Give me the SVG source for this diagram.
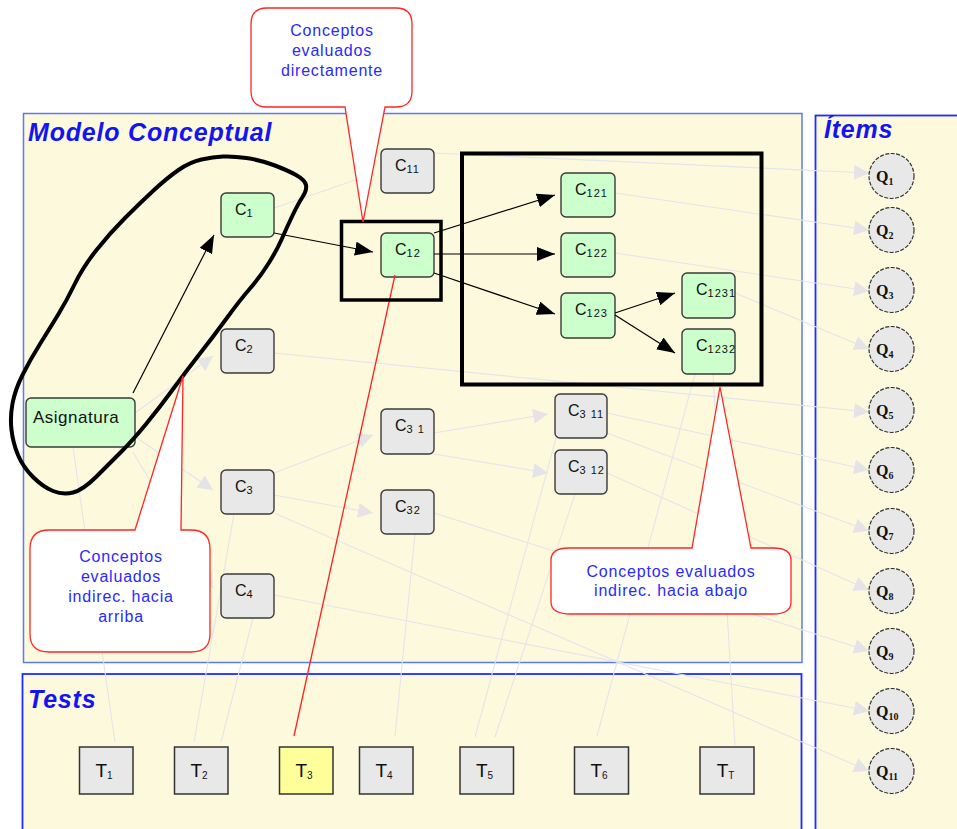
<svg xmlns="http://www.w3.org/2000/svg" width="957" height="829" viewBox="0 0 957 829">
  <defs>
    <style>
      .panel { fill: #fdf9dc; }
      .title { font-family: "Liberation Sans", Arial, sans-serif; font-weight: bold; font-style: italic; font-size: 25px; fill: #1414f0; letter-spacing: 0.8px; }
      .cnode { stroke: #3a3a3a; stroke-width: 1.4; }
      .green { fill: #ccffcc; }
      .grey { fill: #e8e8e8; }
      .c { font-family: "Liberation Sans", Arial, sans-serif; font-size: 16px; fill: #111; }
      .cs { font-size: 11px; letter-spacing: 1px; }
      .tbox { stroke: #333; stroke-width: 1.5; }
      .t { font-family: "Liberation Sans", Arial, sans-serif; font-size: 19px; fill: #111; }
      .ts { font-size: 10px; }
      .qnode { fill: #e8e8e8; stroke: #333; stroke-width: 1.2; stroke-dasharray: 4 1.5; }
      .q { font-family: "Liberation Serif", "Times New Roman", serif; font-weight: bold; font-size: 16px; fill: #111; }
      .qs { font-size: 10px; }
      .faint { stroke: #e4e4ec; stroke-width: 1.1; fill: none; }
      .faint-arrow { marker-end: url(#headGrey); }
      .bold-arrow { stroke: #000; stroke-width: 1.2; fill: none; marker-end: url(#headBlack); }
      .frame { fill: none; stroke: #000; }
      .callout { fill: #fff; stroke: #ff2626; stroke-width: 1.3; }
      .ctext { font-family: "Liberation Sans", Arial, sans-serif; font-size: 16px; fill: #2a2aff; text-anchor: middle; letter-spacing: 0.8px; }
    </style>
    <marker id="headGrey" markerUnits="userSpaceOnUse" markerWidth="15" markerHeight="15" refX="15" refY="7.5" orient="auto">
      <path d="M0,0 L15,7.5 L0,15 Z" fill="#e4e4e8"/>
    </marker>
    <marker id="headBlack" markerUnits="userSpaceOnUse" markerWidth="18" markerHeight="14" refX="18" refY="7" orient="auto">
      <path d="M0,0 L18,7 L0,14 Z" fill="#000"/>
    </marker>
  </defs>

  <rect width="957" height="829" fill="#fff"/>

  <!-- panels -->
  <g id="panels">
    <rect class="panel" x="23.5" y="113.5" width="778.5" height="549" stroke="#5b7cf0" stroke-width="1.5"/>
    <rect class="panel" x="815.5" y="115.5" width="170" height="740" stroke="#1f2cff" stroke-width="1.8"/>
    <rect class="panel" x="22.5" y="674" width="779" height="200" stroke="#1f2cff" stroke-width="1.8"/>
    <text class="title" x="28" y="141">Modelo Conceptual</text>
    <text class="title" x="824" y="138">Ítems</text>
    <text class="title" x="28" y="708">Tests</text>
  </g>

  <!-- connectors -->
  <g id="connectors">
    <!-- concept to concept -->
    <line class="faint faint-arrow" x1="274" y1="208" x2="373" y2="174"/>
    <line class="faint faint-arrow" x1="135" y1="413" x2="213" y2="356"/>
    <line class="faint faint-arrow" x1="137" y1="438" x2="213" y2="490"/>
    <line class="faint faint-arrow" x1="133" y1="452" x2="213" y2="588"/>
    <line class="faint faint-arrow" x1="274" y1="473" x2="373" y2="435"/>
    <line class="faint faint-arrow" x1="274" y1="495" x2="373" y2="513"/>
    <line class="faint faint-arrow" x1="434" y1="433" x2="548" y2="414"/>
    <line class="faint faint-arrow" x1="434" y1="454" x2="548" y2="473"/>
    <!-- concept to item -->
    <line class="faint faint-arrow" x1="434" y1="153" x2="869" y2="173"/>
    <line class="faint faint-arrow" x1="615" y1="193" x2="869" y2="230"/>
    <line class="faint faint-arrow" x1="615" y1="253" x2="869" y2="291"/>
    <line class="faint faint-arrow" x1="735" y1="293" x2="869" y2="349"/>
    <line class="faint faint-arrow" x1="274" y1="353" x2="869" y2="412"/>
    <line class="faint faint-arrow" x1="607" y1="413" x2="869" y2="470"/>
    <line class="faint faint-arrow" x1="607" y1="433" x2="869" y2="531"/>
    <line class="faint faint-arrow" x1="607" y1="473" x2="869" y2="590"/>
    <line class="faint faint-arrow" x1="434" y1="513" x2="869" y2="651"/>
    <line class="faint faint-arrow" x1="274" y1="595" x2="869" y2="711"/>
    <line class="faint faint-arrow" x1="274" y1="513" x2="869" y2="771"/>
    <!-- concept to test -->
    <line class="faint" x1="73" y1="447" x2="115" y2="742"/>
    <line class="faint" x1="234" y1="514" x2="194" y2="742"/>
    <line class="faint" x1="253" y1="618" x2="221" y2="742"/>
    <line class="faint" x1="415" y1="534" x2="395" y2="736"/>
    <line class="faint" x1="556" y1="438" x2="475" y2="737"/>
    <line class="faint" x1="575" y1="494" x2="495" y2="737"/>
    <line class="faint" x1="695" y1="374" x2="597" y2="736"/>
    <line class="faint" x1="713" y1="374" x2="735" y2="745"/>
  </g>

  <!-- concept nodes -->
  <g id="n-asignatura"><rect class="cnode green" x="26" y="398" width="109" height="49" rx="5"/><text class="c" x="33" y="423" style="font-size:17px;letter-spacing:0.5px">Asignatura</text></g>
  <g id="n-c1"><rect class="cnode green" x="221" y="193" width="53" height="44" rx="5"/><text class="c" x="235" y="215">C<tspan class="cs" dy="2">1</tspan></text></g>
  <g id="n-c11"><rect class="cnode grey" x="381" y="149" width="53" height="44" rx="5"/><text class="c" x="395" y="171">C<tspan class="cs" dy="2">11</tspan></text></g>
  <g id="n-c12"><rect class="cnode green" x="381" y="233" width="53" height="44" rx="5"/><text class="c" x="395" y="255">C<tspan class="cs" dy="2">12</tspan></text></g>
  <g id="n-c121"><rect class="cnode green" x="561" y="173" width="54" height="44" rx="5"/><text class="c" x="575" y="195">C<tspan class="cs" dy="2">121</tspan></text></g>
  <g id="n-c122"><rect class="cnode green" x="561" y="233" width="54" height="44" rx="5"/><text class="c" x="575" y="255">C<tspan class="cs" dy="2">122</tspan></text></g>
  <g id="n-c123"><rect class="cnode green" x="561" y="293" width="54" height="45" rx="5"/><text class="c" x="575" y="315">C<tspan class="cs" dy="2">123</tspan></text></g>
  <g id="n-c1231"><rect class="cnode green" x="682" y="273" width="53" height="45" rx="5"/><text class="c" x="696" y="295">C<tspan class="cs" dy="2">1231</tspan></text></g>
  <g id="n-c1232"><rect class="cnode green" x="682" y="329" width="53" height="45" rx="5"/><text class="c" x="696" y="351">C<tspan class="cs" dy="2">1232</tspan></text></g>
  <g id="n-c2"><rect class="cnode grey" x="221" y="329" width="53" height="44" rx="5"/><text class="c" x="235" y="351">C<tspan class="cs" dy="2">2</tspan></text></g>
  <g id="n-c3"><rect class="cnode grey" x="221" y="470" width="53" height="44" rx="5"/><text class="c" x="235" y="492">C<tspan class="cs" dy="2">3</tspan></text></g>
  <g id="n-c4"><rect class="cnode grey" x="221" y="574" width="53" height="44" rx="5"/><text class="c" x="235" y="596">C<tspan class="cs" dy="2">4</tspan></text></g>
  <g id="n-c31"><rect class="cnode grey" x="381" y="409" width="53" height="45" rx="5"/><text class="c" x="395" y="431">C<tspan class="cs" dy="2">3 1</tspan></text></g>
  <g id="n-c32"><rect class="cnode grey" x="381" y="490" width="53" height="44" rx="5"/><text class="c" x="395" y="512">C<tspan class="cs" dy="2">32</tspan></text></g>
  <g id="n-c311"><rect class="cnode grey" x="555" y="394" width="52" height="44" rx="5"/><text class="c" x="568" y="416">C<tspan class="cs" dy="2">3 11</tspan></text></g>
  <g id="n-c312"><rect class="cnode grey" x="555" y="450" width="52" height="44" rx="5"/><text class="c" x="568" y="472">C<tspan class="cs" dy="2">3 12</tspan></text></g>

  <!-- item nodes -->
  <g id="q1"><circle class="qnode" cx="891.5" cy="176" r="22.5"/><text class="q" x="876" y="182">Q<tspan class="qs" dy="3">1</tspan></text></g>
  <g id="q2"><circle class="qnode" cx="891.5" cy="230" r="22.5"/><text class="q" x="876" y="236">Q<tspan class="qs" dy="3">2</tspan></text></g>
  <g id="q3"><circle class="qnode" cx="891.5" cy="290" r="22.5"/><text class="q" x="876" y="296">Q<tspan class="qs" dy="3">3</tspan></text></g>
  <g id="q4"><circle class="qnode" cx="891.5" cy="349" r="22.5"/><text class="q" x="876" y="355">Q<tspan class="qs" dy="3">4</tspan></text></g>
  <g id="q5"><circle class="qnode" cx="891.5" cy="410" r="22.5"/><text class="q" x="876" y="416">Q<tspan class="qs" dy="3">5</tspan></text></g>
  <g id="q6"><circle class="qnode" cx="891.5" cy="470" r="22.5"/><text class="q" x="876" y="476">Q<tspan class="qs" dy="3">6</tspan></text></g>
  <g id="q7"><circle class="qnode" cx="891.5" cy="531" r="22.5"/><text class="q" x="876" y="537">Q<tspan class="qs" dy="3">7</tspan></text></g>
  <g id="q8"><circle class="qnode" cx="891.5" cy="591" r="22.5"/><text class="q" x="876" y="597">Q<tspan class="qs" dy="3">8</tspan></text></g>
  <g id="q9"><circle class="qnode" cx="891.5" cy="651" r="22.5"/><text class="q" x="876" y="657">Q<tspan class="qs" dy="3">9</tspan></text></g>
  <g id="q10"><circle class="qnode" cx="891.5" cy="711" r="22.5"/><text class="q" x="876" y="717">Q<tspan class="qs" dy="3">10</tspan></text></g>
  <g id="q11"><circle class="qnode" cx="891.5" cy="771" r="22.5"/><text class="q" x="876" y="777">Q<tspan class="qs" dy="3">11</tspan></text></g>

  <!-- test nodes -->
  <g id="t1"><rect class="tbox grey" x="79.5" y="747" width="53.5" height="47"/><text class="t" x="104" y="777" text-anchor="middle">T<tspan class="ts" dy="2">1</tspan></text></g>
  <g id="t2"><rect class="tbox grey" x="174.5" y="747" width="53.5" height="47"/><text class="t" x="199" y="777" text-anchor="middle">T<tspan class="ts" dy="2">2</tspan></text></g>
  <g id="t3"><rect class="tbox" fill="#ffff99" x="279.5" y="747" width="53.5" height="47"/><text class="t" x="304" y="777" text-anchor="middle">T<tspan class="ts" dy="2">3</tspan></text></g>
  <g id="t4"><rect class="tbox grey" x="359.5" y="747" width="53.5" height="47"/><text class="t" x="384" y="777" text-anchor="middle">T<tspan class="ts" dy="2">4</tspan></text></g>
  <g id="t5"><rect class="tbox grey" x="460" y="747" width="53.5" height="47"/><text class="t" x="484.5" y="777" text-anchor="middle">T<tspan class="ts" dy="2">5</tspan></text></g>
  <g id="t6"><rect class="tbox grey" x="574.5" y="747" width="54" height="47"/><text class="t" x="599" y="777" text-anchor="middle">T<tspan class="ts" dy="2">6</tspan></text></g>
  <g id="tT"><rect class="tbox grey" x="700" y="747" width="54" height="47"/><text class="t" x="725.5" y="777" text-anchor="middle">T<tspan class="ts" dy="2">T</tspan></text></g>

  <!-- direct prerequisite arrows -->
  <g id="arrows">
    <line class="bold-arrow" x1="133" y1="393" x2="214" y2="235"/>
    <line class="bold-arrow" x1="274" y1="233" x2="373" y2="252"/>
    <line class="bold-arrow" x1="434" y1="233" x2="555" y2="195"/>
    <line class="bold-arrow" x1="434" y1="254" x2="555" y2="254"/>
    <line class="bold-arrow" x1="434" y1="273" x2="555" y2="314"/>
    <line class="bold-arrow" x1="615" y1="313" x2="675" y2="293"/>
    <line class="bold-arrow" x1="615" y1="315" x2="675" y2="353"/>
  </g>

  <!-- link from C12 to the test T3 -->
  <line id="link-c12-t3" x1="395" y1="275" x2="294" y2="736" stroke="#ff2020" stroke-width="1.3"/>

  <!-- hand-drawn outline round Asignatura and C1 -->
  <path id="outline-up" fill="none" stroke="#000" stroke-width="4" stroke-linejoin="round" d="M 223,156.5 Q 233,156 246.5,158 Q 260,160 273.5,165 Q 287,170 296,175 Q 305,180 306,185 Q 307,190 302.5,197 Q 298,204 292.5,215.5 Q 287,227 282,238.5 Q 277,250 268.5,263.5 Q 260,277 250,288.5 Q 240,300 226.5,318.5 Q 213,337 200,353.5 Q 187,370 173.5,388.5 Q 160,407 146.5,423.5 Q 133,440 121.5,451.5 Q 110,463 96.5,476.5 Q 83,490 73,492.5 Q 63,495 53,491 Q 43,487 33,477 Q 23,467 18,455 Q 13,443 11.5,430 Q 10,417 12.5,403.5 Q 15,390 22.5,375 Q 30,360 40,344 Q 50,328 58.5,314 Q 67,300 75,283.5 Q 83,267 96.5,250 Q 110,233 125,218 Q 140,203 153.5,190.5 Q 167,178 178.5,170 Q 190,162 201.5,159.5 Q 213,157 223,156.5 Z"/>

  <!-- frames -->
  <rect id="frame-direct" class="frame" x="341.5" y="221.5" width="99.5" height="78.5" stroke-width="3.5"/>
  <rect id="frame-down" class="frame" x="462" y="153.5" width="299.5" height="231" stroke-width="4"/>

  <!-- callouts -->
  <g id="callout-direct">
    <path class="callout" d="M 267,8 H 396 Q 412,8 412,24 V 91 Q 412,107 396,107 H 385 L 363,222 L 345,107 H 267 Q 251,107 251,91 V 24 Q 251,8 267,8 Z"/>
    <text class="ctext" x="332" y="36">Conceptos</text>
    <text class="ctext" x="332" y="56">evaluados</text>
    <text class="ctext" x="332" y="76">directamente</text>
  </g>
  <g id="callout-up">
    <path class="callout" d="M 49,530 H 135 L 183,376 L 181,530 H 191 Q 210,530 210,549 V 634 Q 210,652 191,652 H 49 Q 30,652 30,634 V 549 Q 30,530 49,530 Z"/>
    <text class="ctext" x="121" y="562">Conceptos</text>
    <text class="ctext" x="121" y="582">evaluados</text>
    <text class="ctext" x="121" y="602">indirec. hacia</text>
    <text class="ctext" x="121" y="622">arriba</text>
  </g>
  <g id="callout-down">
    <path class="callout" d="M 569,548 H 692 L 720,387 L 751,548 H 773 Q 791,548 791,560 V 602 Q 791,614 773,614 H 571 Q 551,614 551,602 V 560 Q 551,548 569,548 Z"/>
    <text class="ctext" x="671" y="577">Conceptos evaluados</text>
    <text class="ctext" x="671" y="596">indirec. hacia abajo</text>
  </g>
</svg>
